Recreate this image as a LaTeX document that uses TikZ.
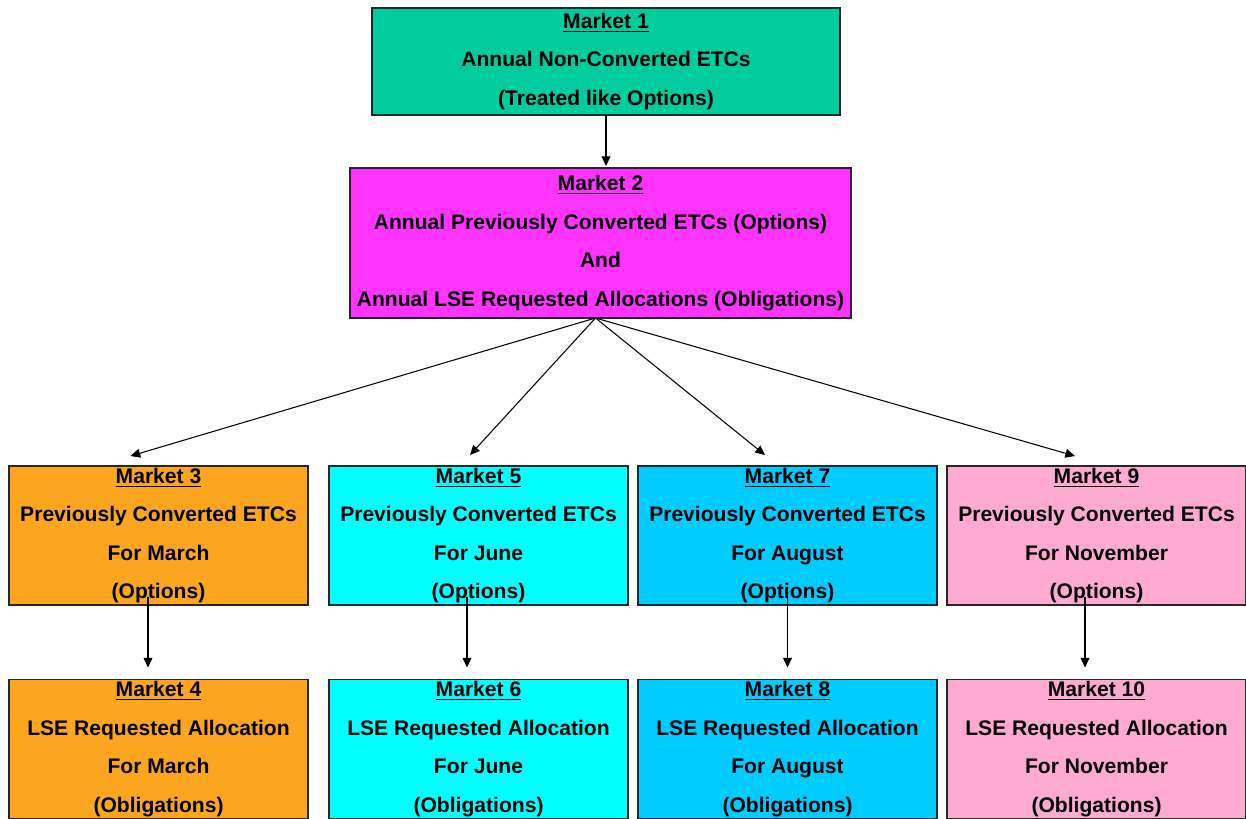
\documentclass[tikz,border=0pt]{standalone}
\usepackage{fontspec}
\setmainfont{Liberation Sans}
\usetikzlibrary{arrows.meta}

\definecolor{mOne}{RGB}{0,204,160}
\definecolor{mTwo}{RGB}{255,51,255}
\definecolor{mMarch}{RGB}{252,166,32}
\definecolor{mJune}{RGB}{0,255,255}
\definecolor{mAug}{RGB}{0,204,255}
\definecolor{mNov}{RGB}{255,170,210}

\tikzset{
  market/.style={draw=black!85, line width=0.8pt, inner sep=0pt, outer sep=0pt,
    align=center, font=\bfseries\fontsize{12}{21.9}\selectfont},
  small/.style={market, minimum width=5.98cm, minimum height=2.78cm},
  link/.style={-{Triangle[length=5.5pt,width=5pt]}, line width=0.6pt}
}

\begin{document}
\begin{tikzpicture}[x=0.02cm, y=-0.02cm]
\useasboundingbox (0,0) rectangle (1246,818);

% top of the tree
\node[market, fill=mOne, minimum width=9.36cm, minimum height=2.14cm] (m1) at (606,61.5)
  {\underline{Market 1}\\Annual Non-Converted ETCs\\(Treated like Options)};
\node[market, fill=mTwo, minimum width=10.02cm, minimum height=3.0cm] (m2) at (600.5,243)
  {\underline{Market 2}\\Annual Previously Converted ETCs (Options)\\And\\Annual LSE Requested Allocations (Obligations)};

% options row
\node[small, fill=mMarch] (m3) at (158.5,535.5) {\underline{Market 3}\\Previously Converted ETCs\\For March\\(Options)};
\node[small, fill=mJune] (m5) at (478.5,535.5) {\underline{Market 5}\\Previously Converted ETCs\\For June\\(Options)};
\node[small, fill=mAug] (m7) at (787.5,535.5) {\underline{Market 7}\\Previously Converted ETCs\\For August\\(Options)};
\node[small, fill=mNov] (m9) at (1096.5,535.5) {\underline{Market 9}\\Previously Converted ETCs\\For November\\(Options)};

% obligations row
\node[small, fill=mMarch] (m4) at (158.5,749) {\underline{Market 4}\\LSE Requested Allocation\\For March\\(Obligations)};
\node[small, fill=mJune] (m6) at (478.5,749) {\underline{Market 6}\\LSE Requested Allocation\\For June\\(Obligations)};
\node[small, fill=mAug] (m8) at (787.5,749) {\underline{Market 8}\\LSE Requested Allocation\\For August\\(Obligations)};
\node[small, fill=mNov] (m10) at (1096.5,749) {\underline{Market 10}\\LSE Requested Allocation\\For November\\(Obligations)};

% arrows
\draw[link] (m1.south) -- ([yshift=0.04cm]m2.north -| m1.south);
\draw[link] ([xshift=-0.1cm]m2.south) -- ([xshift=-0.56cm, yshift=0.2cm]m3.north);
\draw[link] ([xshift=-0.1cm]m2.south) -- ([xshift=-0.17cm, yshift=0.22cm]m5.north);
\draw[link] ([xshift=-0.1cm]m2.south) -- ([xshift=-0.45cm, yshift=0.22cm]m7.north);
\draw[link] ([xshift=-0.1cm]m2.south) -- ([xshift=-0.43cm, yshift=0.2cm]m9.north);

\foreach \a/\b/\dx in {m3/m4/-0.21, m5/m6/-0.23, m7/m8/0, m9/m10/-0.23}
  \draw[link] ([xshift=\dx cm, yshift=0.16cm]\a.south) -- ([xshift=\dx cm, yshift=0.24cm]\b.north);
\end{tikzpicture}
\end{document}
